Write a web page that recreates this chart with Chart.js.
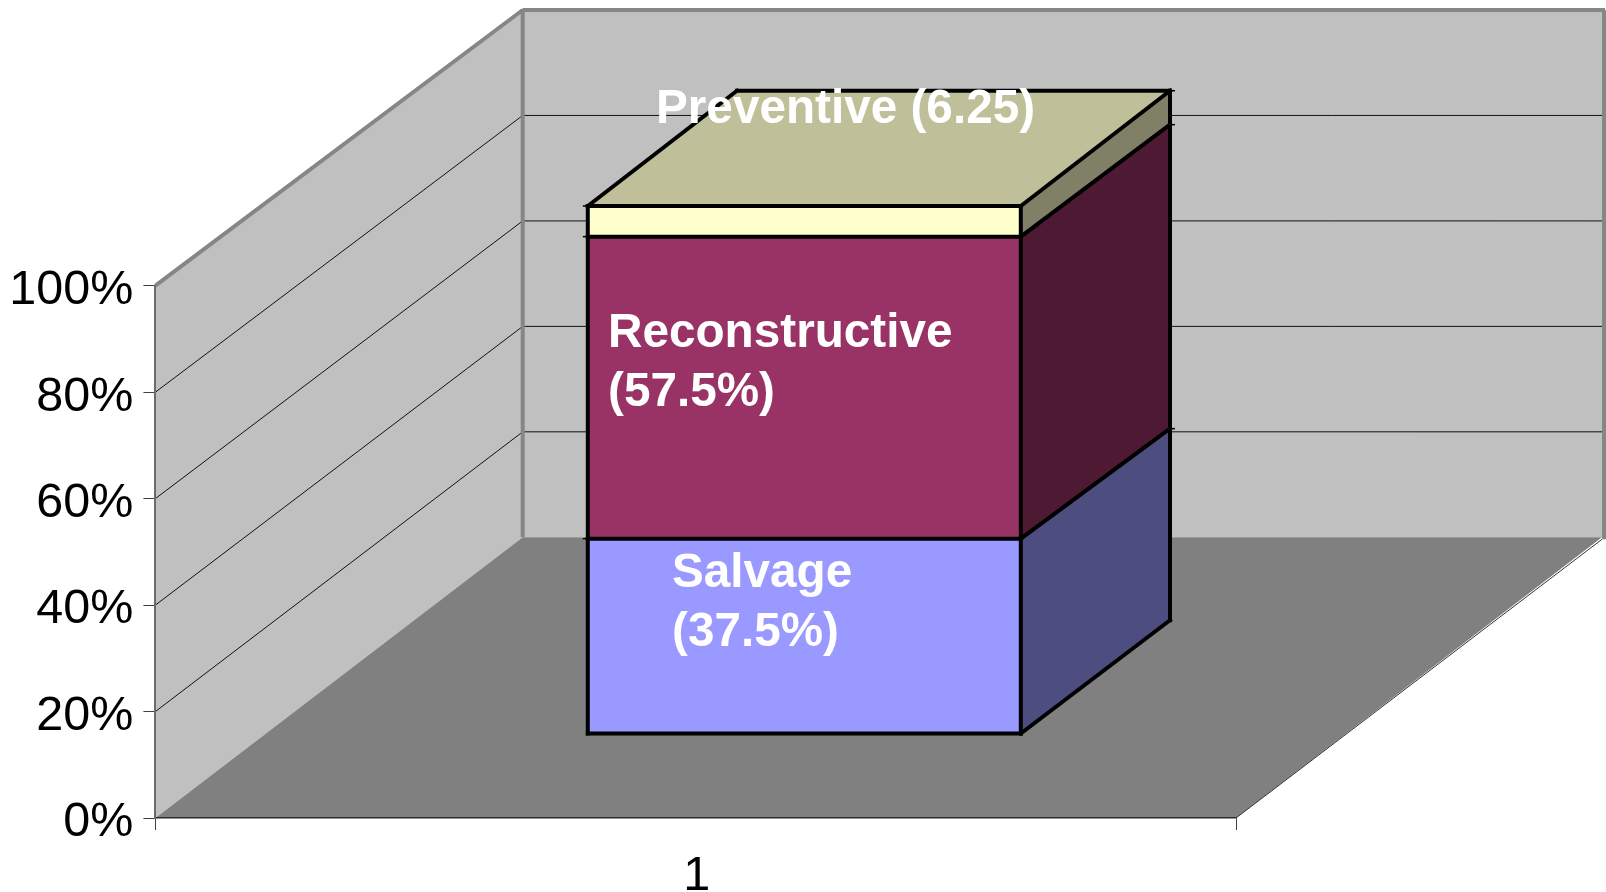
<!DOCTYPE html>
<html>
<head>
<meta charset="utf-8">
<title>Stacked column</title>
<script src="https://cdn.jsdelivr.net/npm/chart.js@4/dist/chart.umd.js"></script>
<style>
    html, body { margin: 0; padding: 0; background: #fff; overflow: hidden; }
    canvas { display: block; }
</style>
</head>
<body>
<canvas id="chart" width="1606" height="892"></canvas>
<script>
// ===== DATA =====
const categories = ['1'];
const salvageValues = [37.0];
const reconstructiveValues = [57.2];
const preventiveValues = [5.8];
const yTicks = [0, 20, 40, 60, 80, 100];
const salvageLabel = ['Salvage', '(37.5%)'];
const reconstructiveLabel = ['Reconstructive', '(57.5%)'];
const preventiveLabel = ['Preventive (6.25)'];

// ===== 3D LOOK =====
// walls and floor of the fake 3D box
const WALL = '#C0C0C0';
const FLOOR = '#808080';
const EDGE = '#868686';
const BACK_X = 522.7;
const BACK_RIGHT = 1602;
const BACK_FLOOR_Y = 537.3;
const BACK_SCALE = 0.9906;

// the bar sits part way into the box
const BAR_DX = 108.6;
const BAR_BASE_Y = 734;
const BAR_SCALE = 0.9919;
const BAR_DEPTH_X = 149.2;
const BAR_DEPTH_BOTTOM = -113.3;
const BAR_DEPTH_TOPS = [-110, -112, -115.3];

const FRONT_COLORS = ['#9999FF', '#993366', '#FFFFCC'];
const SIDE_COLORS = ['#4D4D80', '#4D1933', '#808066'];
const TOP_COLOR = '#BFBF99';

function backY(scale, value) {
    const y0 = scale.getPixelForValue(0);
    return BACK_FLOOR_Y - (y0 - scale.getPixelForValue(value)) * BACK_SCALE;
}

function poly(ctx, pts, fill) {
    ctx.beginPath();
    pts.forEach((p, i) => i ? ctx.lineTo(p[0], p[1]) : ctx.moveTo(p[0], p[1]));
    ctx.closePath();
    ctx.fillStyle = fill;
    ctx.fill();
}

function line(ctx, x1, y1, x2, y2) {
    ctx.beginPath();
    ctx.moveTo(x1, y1);
    ctx.lineTo(x2, y2);
    ctx.stroke();
}

const boxPlugin = {
    id: 'box3d',
    // Walls, floor and grid lines go under everything
    beforeDraw(chart) {
        const { ctx, chartArea: a } = chart;
        const y = chart.scales.y;
        const topBack = backY(y, 100);
        ctx.save();
        poly(ctx, [[a.left, a.top], [BACK_X, topBack], [BACK_X, BACK_FLOOR_Y], [a.left, a.bottom]], WALL);
        poly(ctx, [[BACK_X, topBack], [BACK_RIGHT + 2, topBack], [BACK_RIGHT + 2, BACK_FLOOR_Y], [BACK_X, BACK_FLOOR_Y]], WALL);
        poly(ctx, [[a.left, a.bottom], [BACK_X, BACK_FLOOR_Y], [BACK_RIGHT, BACK_FLOOR_Y], [a.right, a.bottom]], FLOOR);

        // grid lines
        ctx.strokeStyle = '#111';
        ctx.lineWidth = 1;
        yTicks.slice(1, -1).forEach(v => {
            const py = y.getPixelForValue(v);
            const by = backY(y, v);
            line(ctx, a.left, py, BACK_X, by);
            line(ctx, BACK_X, by, BACK_RIGHT, by);
        });

        // wall edges
        ctx.strokeStyle = EDGE;
        ctx.lineWidth = 4;
        line(ctx, a.left, a.top, BACK_X, topBack);
        line(ctx, BACK_X, topBack - 1, BACK_X, BACK_FLOOR_Y);
        line(ctx, BACK_X, topBack, BACK_RIGHT + 3, topBack);
        line(ctx, BACK_RIGHT + 2, topBack, BACK_RIGHT + 2, BACK_FLOOR_Y + 2);

        // floor right edge
        ctx.strokeStyle = '#333';
        ctx.lineWidth = 1;
        line(ctx, a.right, a.bottom, BACK_RIGHT, BACK_FLOOR_Y + 2);
        ctx.restore();
    },
    // Shift the bars into the box, they still come from the library's scales
    beforeDatasetsDraw(chart) {
        const { ctx } = chart;
        const y0 = chart.scales.y.getPixelForValue(0);
        ctx.save();
        ctx.transform(1, 0, 0, BAR_SCALE, BAR_DX, BAR_BASE_Y - BAR_SCALE * y0);
    },
    afterDatasetsDraw(chart) {
        const { ctx } = chart;
        ctx.restore();

        const y0 = chart.scales.y.getPixelForValue(0);
        const py = v => BAR_BASE_Y + (v - y0) * BAR_SCALE;
        const segs = chart.data.datasets.map((d, i) => {
            const bar = chart.getDatasetMeta(i).data[0];
            return {
                left: bar.x - bar.width / 2 + BAR_DX,
                right: bar.x + bar.width / 2 + BAR_DX,
                top: py(bar.y),
                bottom: py(bar.base),
                backTop: py(bar.y) + BAR_DEPTH_TOPS[i],
                backBottom: i ? py(bar.base) + BAR_DEPTH_TOPS[i - 1] : py(bar.base) + BAR_DEPTH_BOTTOM
            };
        });
        const first = segs[0];
        const last = segs[segs.length - 1];
        const l = first.left, r = first.right;
        const bx = r + BAR_DEPTH_X;

        ctx.save();
        // side faces
        segs.forEach((s, i) => {
            poly(ctx, [[r, s.bottom], [bx, s.backBottom], [bx, s.backTop], [r, s.top]], SIDE_COLORS[i]);
        });
        // top face
        poly(ctx, [[l, last.top], [l + BAR_DEPTH_X, last.backTop], [bx, last.backTop], [r, last.top]], TOP_COLOR);

        // outlines
        ctx.strokeStyle = '#000';
        ctx.lineWidth = 4;
        ctx.lineCap = 'square';
        line(ctx, l, first.bottom, l, last.top);
        line(ctx, r, first.bottom, r, last.top);
        line(ctx, bx, first.backBottom, bx, last.backTop);
        line(ctx, l, first.bottom, r, first.bottom);
        line(ctx, r, first.bottom, bx, first.backBottom);
        segs.forEach(s => {
            line(ctx, l, s.top, r, s.top);
            line(ctx, r, s.top, bx, s.backTop);
        });
        line(ctx, l, last.top, l + BAR_DEPTH_X, last.backTop);
        line(ctx, l + BAR_DEPTH_X, last.backTop, bx, last.backTop);

        // little corner nubs from the mitred joins
        ctx.lineWidth = 1.5;
        ctx.lineCap = 'butt';
        segs.forEach(s => {
            line(ctx, l - 5, s.top, l, s.top);
            line(ctx, bx, s.backTop, bx + 5, s.backTop);
        });

        // value labels
        ctx.fillStyle = '#fff';
        ctx.font = 'bold 47.7px "Liberation Sans", Arial, sans-serif';
        ctx.textAlign = 'left';
        ctx.textBaseline = 'alphabetic';
        preventiveLabel.forEach((t, i) => ctx.fillText(t, 656, 123 + i * 59));
        reconstructiveLabel.forEach((t, i) => ctx.fillText(t, 608, 347 + i * 59));
        salvageLabel.forEach((t, i) => ctx.fillText(t, 672, 587 + i * 59));
        ctx.restore();
    }
};

// ===== CHART =====
new Chart(document.getElementById('chart'), {
    type: 'bar',
    plugins: [boxPlugin],
    data: {
        labels: categories,
        datasets: [
            { label: 'Salvage', data: salvageValues, backgroundColor: FRONT_COLORS[0], borderWidth: 0, clip: false },
            { label: 'Reconstructive', data: reconstructiveValues, backgroundColor: FRONT_COLORS[1], borderWidth: 0, clip: false },
            { label: 'Preventive', data: preventiveValues, backgroundColor: FRONT_COLORS[2], borderWidth: 0, clip: false }
        ]
    },
    options: {
        responsive: false,
        animation: false,
        barPercentage: 0.4007,
        categoryPercentage: 1,
        layout: { padding: { top: 285.7, right: 370, left: 0, bottom: 0 } },
        plugins: {
            legend: { display: false },
            tooltip: { enabled: false }
        },
        scales: {
            x: {
                stacked: true,
                afterFit: s => { s.height = 74; },
                grid: { drawOnChartArea: false, tickLength: 12, color: '#404040' },
                border: { color: '#2b2b2b', width: 1.5 },
                ticks: {
                    color: '#000',
                    padding: 18,
                    labelOffset: 1,
                    font: { family: '"Liberation Sans", Arial, sans-serif', size: 48.5 }
                }
            },
            y: {
                stacked: true,
                min: 0,
                max: 100,
                afterFit: s => { s.width = 155.4; },
                grid: { drawOnChartArea: false, tickLength: 12, color: '#404040' },
                border: { color: '#6b6b6b', width: 2 },
                afterBuildTicks: s => { s.ticks = yTicks.map(v => ({ value: v })); },
                ticks: {
                    color: '#000',
                    padding: 10,
                    labelOffset: 5,
                    callback: v => v + '%',
                    font: { family: '"Liberation Sans", Arial, sans-serif', size: 48.5 }
                }
            }
        }
    }
});
</script>
</body>
</html>
